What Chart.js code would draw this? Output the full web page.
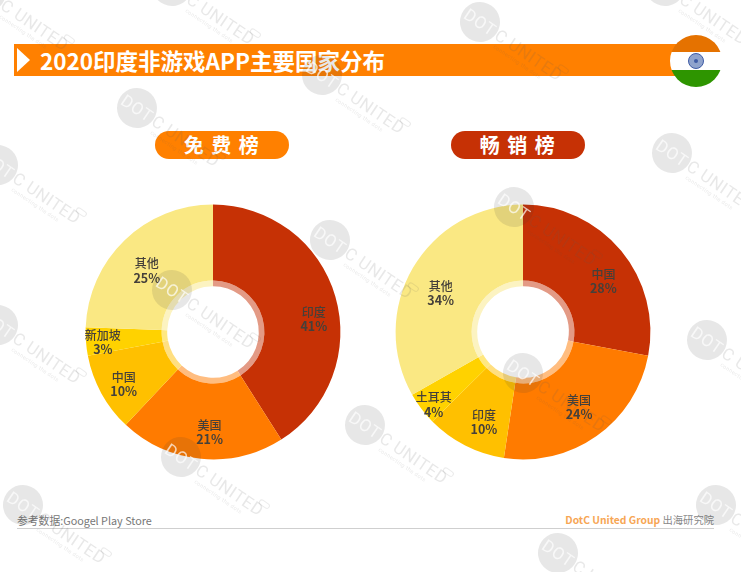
<!DOCTYPE html>
<html lang="zh">
<head>
<meta charset="utf-8">
<script src="https://cdn.jsdelivr.net/npm/chart.js@4"></script>
<style>
html,body{margin:0;padding:0;background:#fff;width:741px;height:572px;overflow:hidden;font-family:"Noto Sans CJK SC","Noto Sans",sans-serif}
.abs{position:absolute}
#bar{left:14px;top:44px;width:670px;height:32px;background:#FF8000}
#tri{left:17px;top:48px;width:0;height:0;border-left:13px solid #fff;border-top:12px solid transparent;border-bottom:12px solid transparent}
#title{left:40px;top:44px;height:32px;line-height:33px;font-size:22.5px;font-weight:700;color:#fff;white-space:nowrap}
.pill{top:131px;width:134px;height:28px;border-radius:14px;color:#fff;font-size:20px;font-weight:700;line-height:28px;text-align:center;letter-spacing:1.5px;white-space:pre}
#p1{left:155px;background:#FF8000}
#p2{left:451px;background:#C63105}
canvas{position:absolute}
#c1{left:63px;top:182px}
#c2{left:373px;top:182px}
#src{left:17px;top:512px;font-size:10.8px;line-height:16px;color:#777;white-space:nowrap}
#brand{right:27px;top:512px;font-size:10.3px;line-height:16px;color:#888;white-space:nowrap}
#brand b{color:#F7A654;font-weight:700}
#rule{left:17px;top:527.5px;width:697px;height:1px;background:#cfcfcf}
#wm{left:0;top:0;pointer-events:none}
</style>
</head>
<body>
<div class="abs" id="bar"></div>
<div class="abs" id="tri"></div>
<div class="abs" id="title">2020印度非游戏APP主要国家分布</div>
<svg class="abs" style="left:669px;top:34px" width="54" height="54" viewBox="0 0 54 54">
  <defs><clipPath id="fc"><circle cx="27" cy="27" r="26"/></clipPath></defs>
  <g clip-path="url(#fc)">
    <rect width="54" height="17" y="1" fill="#E57200"/>
    <rect width="54" height="18" y="18" fill="#fff"/>
    <rect width="54" height="18" y="36" fill="#2E9500"/>
    <circle cx="27" cy="27" r="7.5" fill="#8FA3CC" stroke="#3F5CA5" stroke-width="1"/>
    <circle cx="27" cy="27" r="2" fill="#3F5CA5"/>
  </g>
</svg>
<div class="abs pill" id="p1">免 费 榜</div>
<div class="abs pill" id="p2">畅 销 榜</div>
<canvas id="c1" width="300" height="300" style="width:300px;height:300px"></canvas>
<canvas id="c2" width="300" height="300" style="width:300px;height:300px"></canvas>
<div class="abs" id="src">参考数据:Googel Play Store</div>
<div class="abs" id="brand"><b>DotC United Group</b> 出海研究院</div>
<div class="abs" id="rule"></div>
<svg class="abs" id="wm" width="741" height="572"></svg>
<script>
const freeCategories = ["印度", "美国", "中国", "新加坡", "其他"];
const freeShares = [41, 21, 10, 3.6, 24.4];
const freePercentLabels = ["41%", "21%", "10%", "3%", "25%"];
const paidCategories = ["中国", "美国", "印度", "土耳其", "其他"];
const paidShares = [28, 24.4, 10.2, 4.2, 33.2];
const paidPercentLabels = ["28%", "24%", "10%", "4%", "34%"];
const sliceColors = ["#C63105", "#FF7B00", "#FFC000", "#FFD200", "#FAE883"];
const ringColors = ["#E39A85", "#FFBD80", "#FFDF80", "#FFE880", "#FCF3C1"];
const freeLabelShift = [[15,12],[5,11.5],[-11,9],[-21,3.7],[-4.2,3.2]];
const paidLabelShift = [[11.5,6],[4.4,2.4],[1.5,10.7],[-18,19],[-5,6.4]];

const sliceLabels = {
  id: "sliceLabels",
  afterDatasetsDraw(chart, args, opts) {
    const ctx = chart.ctx, meta = chart.getDatasetMeta(0);
    meta.data.forEach((arc, i) => {
      const p = arc.tooltipPosition();
      const x = p.x + opts.shift[i][0], y = p.y + opts.shift[i][1];
      ctx.save();
      ctx.textAlign = "center";
      ctx.textBaseline = "middle";
      ctx.fillStyle = "#45403a";
      ctx.font = '500 12px "Noto Sans CJK SC"';
      ctx.fillText(chart.data.labels[i], x, y - 7);
      ctx.font = '700 12.5px "Noto Sans CJK SC"';
      ctx.fillText(opts.percents[i], x, y + 7);
      ctx.restore();
    });
  }
};

function donut(id, labels, values, percents, shift) {
  new Chart(document.getElementById(id), {
    type: "doughnut",
    data: {
      labels,
      datasets: [
        { data: values, backgroundColor: sliceColors, borderWidth: 0, weight: 76 },
        { data: values, backgroundColor: ringColors, borderWidth: 0, weight: 5.6 }
      ]
    },
    options: {
      responsive: false,
      animation: false,
      radius: 127.4,
      cutout: "35.95%",
      layout: { padding: 0 },
      plugins: { legend: { display: false }, tooltip: { enabled: false }, title: { display: false }, sliceLabels: { shift, percents } }
    },
    plugins: [sliceLabels]
  });
}
donut("c1", freeCategories, freeShares, freePercentLabels, freeLabelShift);
donut("c2", paidCategories, paidShares, paidPercentLabels, paidLabelShift);

const watermarkSpots = [[137,108],[322,75],[480,22],[672,153],[707,340],[23,505],[365,425],[181,457],[330,240],[172,290],[523,373],[514,207],[558,553],[716,505],[-2,165],[-2,325],[172,-14],[-14,-8],[665,-14]];
const NS = "http://www.w3.org/2000/svg";
const wm = document.getElementById("wm");
watermarkSpots.forEach(([x, y]) => {
  const g = document.createElementNS(NS, "g");
  g.setAttribute("transform", `translate(${x},${y}) rotate(34)`);
  g.innerHTML =
    `<circle r="20" fill="rgba(60,60,60,.12)"/>` +
    `<text x="-17" y="6" font-family="Roboto,'Noto Sans'" font-size="17" letter-spacing="0.5" fill="rgba(255,255,255,.7)">DOT</text>` +
    `<text x="20" y="6" font-family="Roboto,'Noto Sans'" font-size="17" letter-spacing="0.5" fill="rgba(90,90,90,.14)">C UNITED</text>` +
    `<text x="25" y="14" font-family="Roboto,'Noto Sans'" font-size="5.5" letter-spacing="0.4" fill="rgba(90,90,90,.14)">connecting the dots</text>` +
    `<rect x="90" y="-10" width="11" height="5" rx="2.5" fill="none" stroke="rgba(90,90,90,.12)" stroke-width="1"/>`;
  wm.appendChild(g);
});
</script>
</body>
</html>
